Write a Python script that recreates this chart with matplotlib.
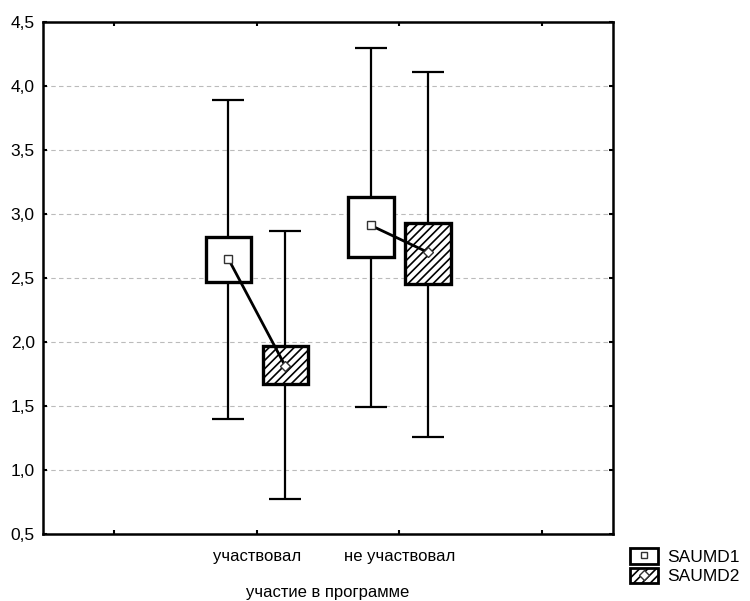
import matplotlib.pyplot as plt
from matplotlib.patches import Patch
from matplotlib.lines import Line2D

plt.rcParams['font.family'] = ['Liberation Sans', 'DejaVu Sans']
plt.rcParams['hatch.linewidth'] = 1.2
plt.rcParams['hatch.color'] = '#5a5a5a'

# categories of the grouping variable
categories = ['участвовал', 'не участвовал']
cat_pos = [1, 2]

# SAUMD1: mean, box (mean +/- SE), whiskers
s1_mean = [2.65, 2.91]
s1_box_lo = [2.47, 2.66]
s1_box_hi = [2.82, 3.13]
s1_wh_lo = [1.40, 1.49]
s1_wh_hi = [3.89, 4.30]

# SAUMD2
s2_mean = [1.81, 2.70]
s2_box_lo = [1.67, 2.45]
s2_box_hi = [1.97, 2.93]
s2_wh_lo = [0.77, 1.26]
s2_wh_hi = [2.87, 4.11]

fig = plt.figure(figsize=(7.5, 6.01), dpi=100)
ax = fig.add_axes([0.0573, 0.1115, 0.7604, 0.852])

off = 0.2
bw = 0.32

def draw_series(xs, mean, blo, bhi, wlo, whi, hatch):
    yerr = [[m - l for m, l in zip(mean, wlo)], [h - m for m, h in zip(mean, whi)]]
    ax.errorbar(xs, mean, yerr=yerr, fmt='none', ecolor='black', elinewidth=1.6,
                capsize=11.5, capthick=1.6, zorder=2)
    heights = [h - l for h, l in zip(bhi, blo)]
    ax.bar(xs, heights, bottom=blo, width=bw, facecolor='white', edgecolor='black',
           linewidth=2.4, hatch=hatch, zorder=3)

x1 = [p - off for p in cat_pos]
x2 = [p + off for p in cat_pos]
draw_series(x1, s1_mean, s1_box_lo, s1_box_hi, s1_wh_lo, s1_wh_hi, None)
draw_series(x2, s2_mean, s2_box_lo, s2_box_hi, s2_wh_lo, s2_wh_hi, '////')

# lines joining the means within each category
for i in range(len(cat_pos)):
    ax.plot([x1[i], x2[i]], [s1_mean[i], s2_mean[i]], color='black', lw=2, zorder=4)
ax.plot(x1, s1_mean, ls='none', marker='s', ms=5.5, mfc='white', mec='#333333', mew=1, zorder=5)
ax.plot(x2, s2_mean, ls='none', marker='D', ms=5.5, mfc='white', mec='#333333', mew=1, zorder=5)

ax.set_xlim(-0.5, 3.5)
ax.set_ylim(0.5, 4.5)
ax.set_xticks([0, 1, 2, 3])
ax.set_xticklabels([''] + categories + [''])
yt = [0.5, 1.0, 1.5, 2.0, 2.5, 3.0, 3.5, 4.0, 4.5]
ax.set_yticks(yt)
ax.set_yticklabels([f'{v:.1f}'.replace('.', ',') for v in yt])
ax.tick_params(direction='in', length=3, width=1.5, top=True, right=True,
               labelsize=12.5, pad=6)
ax.tick_params(axis='x', labelsize=12, pad=11)
ax.yaxis.grid(True, ls=(0, (4, 3)), color='#bbbbbb', lw=0.8)
ax.set_axisbelow(True)
for s in ax.spines.values():
    s.set_linewidth(1.8)
ax.set_xlabel('участие в программе', fontsize=12, labelpad=15)

h1 = (Patch(facecolor='white', edgecolor='black', linewidth=2),
      Line2D([], [], ls='none', marker='s', ms=5, mfc='white', mec='#333333'))
h2 = (Patch(facecolor='white', edgecolor='black', linewidth=2, hatch='////'),
      Line2D([], [], ls='none', marker='D', ms=5, mfc='white', mec='#333333'))
fig.legend([h1, h2], ['SAUMD1', 'SAUMD2'], loc='upper left',
           bbox_to_anchor=(0.829, 0.102), frameon=False, fontsize=12.5,
           handlelength=1.6, handleheight=1.0, handletextpad=0.5,
           labelspacing=0.15, borderpad=0)

fig.savefig('out.png', dpi=100)
